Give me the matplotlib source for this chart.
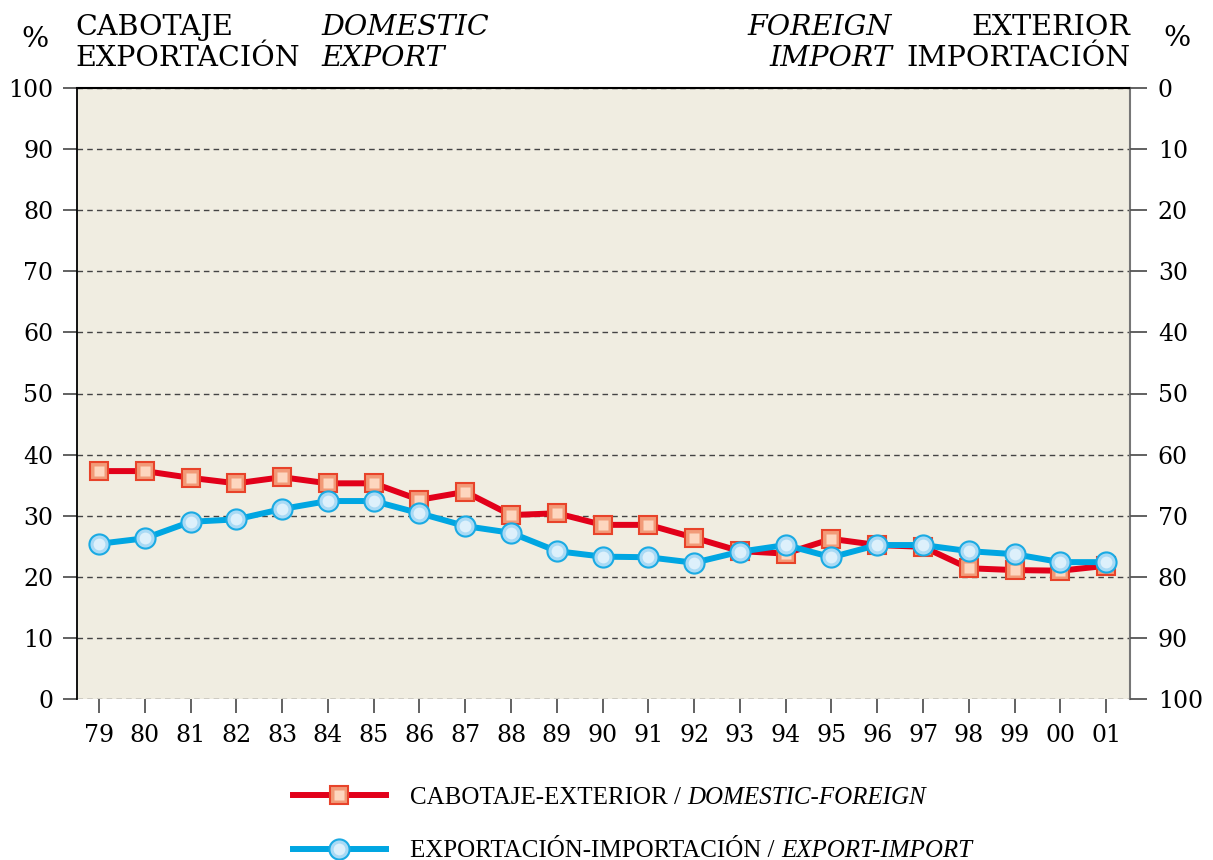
import numpy as np
import matplotlib.pyplot as plt
from matplotlib.legend_handler import HandlerTuple

# Data (% share per year)
years = ['79', '80', '81', '82', '83', '84', '85', '86', '87', '88', '89', '90',
         '91', '92', '93', '94', '95', '96', '97', '98', '99', '00', '01']
domestic_foreign = [37.3, 37.3, 36.2, 35.3, 36.3, 35.3, 35.3, 32.6, 33.9, 30.1, 30.4, 28.5,
                    28.5, 26.4, 24.2, 23.8, 26.2, 25.2, 24.9, 21.4, 21.1, 21.0, 21.8]
export_import = [25.4, 26.3, 29.0, 29.4, 31.1, 32.4, 32.4, 30.4, 28.3, 27.2, 24.2, 23.3,
                 23.2, 22.3, 24.1, 25.2, 23.2, 25.2, 25.2, 24.2, 23.7, 22.4, 22.4]
left_ticks = [0, 10, 20, 30, 40, 50, 60, 70, 80, 90, 100]

RED = '#E2001A'
BLUE = '#00A6E2'
SERIF = 'DejaVu Serif'

W, H = 1213, 860
fig = plt.figure(figsize=(W / 100, H / 100), dpi=100)
ax = fig.add_axes([77 / W, 1 - 699 / H, (1130 - 77) / W, (699 - 88) / H])
ax.set_facecolor('#F0EDE1')

x = np.arange(len(years))

# red series: outer square + lighter inner square to fake the gradient
red_line, = ax.plot(x, domestic_foreign, color=RED, lw=4.3, marker='s', ms=13.5,
                    mfc='#F29A78', mec='#E8432A', mew=1.5, zorder=3)
red_in, = ax.plot(x, domestic_foreign, ls='none', marker='s', ms=7.5,
                  mfc='#FDD6BF', mec='none', zorder=3.1)
blue_line, = ax.plot(x, export_import, color=BLUE, lw=4.3, marker='o', ms=14.5,
                     mfc='#A9DAF5', mec='#1AAAE3', mew=1.5, zorder=4)
blue_in, = ax.plot(x, export_import, ls='none', marker='o', ms=8.5,
                   mfc='#DDF0FB', mec='none', zorder=4.1)

ax.set_xlim(-0.48, len(years) - 0.48)
ax.set_ylim(0, 100)
ax.set_yticks(left_ticks)
ax.set_xticks(x)
ax.set_xticklabels(years)
ax.yaxis.grid(True, ls=(0, (4, 3)), color='#444444', lw=1)
ax.set_axisbelow(True)

for lab in ax.get_xticklabels() + ax.get_yticklabels():
    lab.set_family(SERIF)
    lab.set_fontsize(17)
ax.tick_params(axis='y', length=10, width=1.3, color='#555555', pad=7)
ax.tick_params(axis='x', length=10, width=1.3, color='#555555', pad=8)

ax.spines['bottom'].set_visible(False)
ax.spines['top'].set_linewidth(1.5)
ax.spines['left'].set_linewidth(1.3)
ax.spines['right'].set_color('#777777')
ax.spines['right'].set_linewidth(1.5)

# right axis: inverse percentage
ax2 = ax.twinx()
ax2.set_ylim(100, 0)
ax2.set_yticks(left_ticks)
for lab in ax2.get_yticklabels():
    lab.set_family(SERIF)
    lab.set_fontsize(17)
ax2.tick_params(axis='y', length=12, width=1.3, color='#555555', pad=8)
for s in ['top', 'bottom', 'left', 'right']:
    ax2.spines[s].set_visible(False)


def fx(px):
    return px / W


def fy(py):
    return 1 - py / H


# header labels
hdr = dict(family=SERIF, fontsize=20.5, va='baseline')
fig.text(fx(21), fy(47), '%', **hdr)
fig.text(fx(1163), fy(46), '%', **hdr)
fig.text(fx(75), fy(35), 'CABOTAJE', **hdr)
fig.text(fx(75), fy(66), 'EXPORTACIÓN', **hdr)
fig.text(fx(321), fy(35), 'DOMESTIC', style='italic', **hdr)
fig.text(fx(321), fy(66), 'EXPORT', style='italic', **hdr)
fig.text(fx(892), fy(35), 'FOREIGN', style='italic', ha='right', **hdr)
fig.text(fx(892), fy(66), 'IMPORT', style='italic', ha='right', **hdr)
fig.text(fx(1130), fy(35), 'EXTERIOR', ha='right', **hdr)
fig.text(fx(1130), fy(66), 'IMPORTACIÓN', ha='right', **hdr)

# legend
leg_font = {'family': 'Liberation Serif', 'size': 18}
leg = fig.legend(handles=[(red_line, red_in), (blue_line, blue_in)],
                 labels=['CABOTAJE-EXTERIOR / ', 'EXPORTACIÓN-IMPORTACIÓN / '],
                 handler_map={tuple: HandlerTuple(ndivide=1, pad=0)},
                 loc='upper left', bbox_to_anchor=(fx(293), fy(786)),
                 frameon=False, prop=leg_font, handlelength=3.7,
                 handletextpad=1.0, labelspacing=1.25, borderpad=0, borderaxespad=0)

fig.canvas.draw()
renderer = fig.canvas.get_renderer()
inv = fig.transFigure.inverted()
for txt, extra in zip(leg.get_texts(), ['DOMESTIC-FOREIGN', 'EXPORT-IMPORT']):
    bb = txt.get_window_extent(renderer)
    x0, y0 = inv.transform((bb.x1, bb.y0))
    fig.text(x0, y0, extra, family='Liberation Serif', fontsize=18,
             style='italic', va='bottom')

fig.savefig('out.png', dpi=100)
